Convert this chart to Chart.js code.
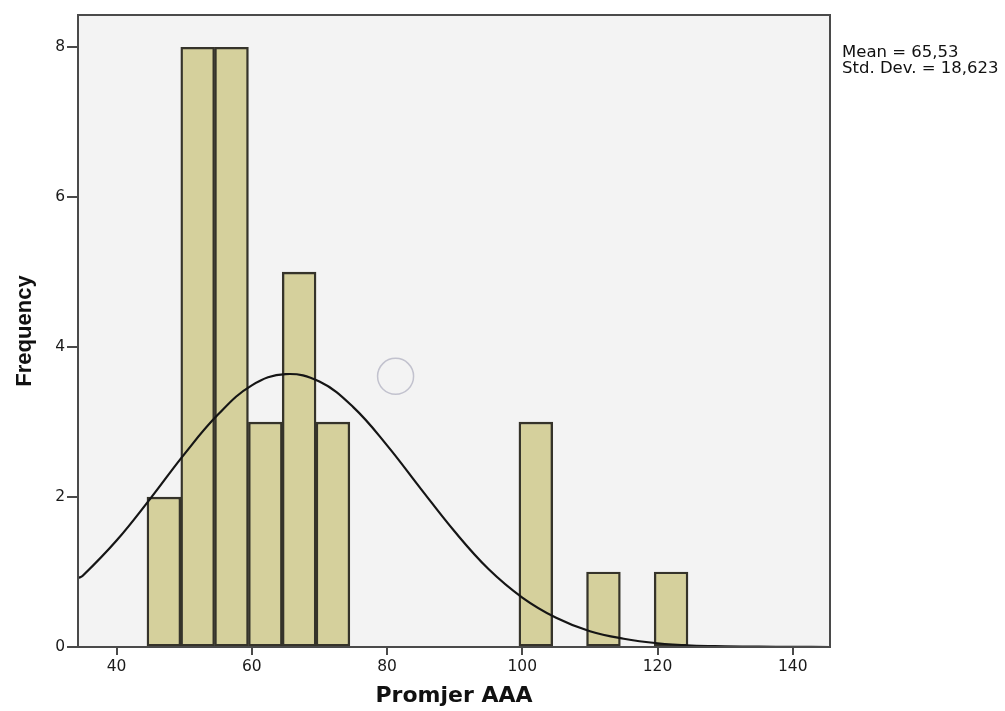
<!DOCTYPE html>
<html>
<head>
<meta charset="utf-8">
<script src="https://cdn.jsdelivr.net/npm/chart.js@4"></script>
<style>
  body { margin: 0; background: #fff; }
  #wrap { width: 1005px; height: 711px; }
</style>
</head>
<body>
<div id="wrap"><canvas id="hist" width="1005" height="711"></canvas></div>
<script>
// histogram bins (centre of each 5-wide bin) and counts
var binCentres = [47, 52, 57, 62, 67, 72, 102, 112, 122];
var counts = [2, 8, 8, 3, 5, 3, 3, 1, 1];

// normal curve
var curveX = [34.3, 35, 40, 45, 50, 55, 60, 65, 70, 75, 80, 85, 90, 95, 100, 105, 110, 115, 120, 125, 130, 135, 140, 145.5];
var curveY = [0.92, 0.95, 1.42, 1.98, 2.57, 3.10, 3.49, 3.64, 3.54, 3.20, 2.69, 2.11, 1.54, 1.04, 0.66, 0.39, 0.21, 0.11, 0.05, 0.02, 0.01, 0.004, 0.001, 0];

var xTicks = [40, 60, 80, 100, 120, 140];
var yTicks = [0, 2, 4, 6, 8];
var statLines = ['Mean = 65,53', 'Std. Dev. = 18,623'];

// stray circle mark in the plot
var markX = [81.26];
var markY = [3.61];

var plotBg = {
    id: 'plotBg',
    beforeDraw: function(chart) {
        var a = chart.chartArea, ctx = chart.ctx;
        ctx.save();
        ctx.fillStyle = '#f3f3f3';
        ctx.fillRect(a.left, a.top, a.right - a.left, a.bottom - a.top);
        ctx.restore();
    },
    afterDraw: function(chart) {
        var a = chart.chartArea, ctx = chart.ctx;
        ctx.save();
        ctx.strokeStyle = '#4a4a4a';
        ctx.lineWidth = 2;
        ctx.strokeRect(a.left, a.top, a.right - a.left, a.bottom - a.top);
        ctx.fillStyle = '#111';
        ctx.font = '16.5px "DejaVu Sans"';
        ctx.textBaseline = 'alphabetic';
        ctx.fillText(statLines[0], 842, 57);
        ctx.fillText(statLines[1], 842, 73);
        ctx.restore();
    }
};

new Chart(document.getElementById('hist').getContext('2d'), {
    type: 'bar',
    data: {
        datasets: [
            {
                type: 'line',
                data: markX.map(function(v, i) { return {x: v, y: markY[i]}; }),
                showLine: false,
                pointRadius: 18,
                pointBorderWidth: 1.5,
                pointBorderColor: '#c2c2ce',
                pointBackgroundColor: 'rgba(0,0,0,0)',
                order: 0
            },
            {
                type: 'line',
                data: curveX.map(function(v, i) { return {x: v, y: curveY[i]}; }),
                borderColor: '#151515',
                borderWidth: 2.2,
                pointRadius: 0,
                tension: 0.4,
                fill: false,
                order: 1
            },
            {
                type: 'bar',
                data: binCentres.map(function(v, i) { return {x: v, y: counts[i]}; }),
                backgroundColor: '#d5d09c',
                borderColor: '#35332a',
                borderWidth: 2.4,
                borderSkipped: false,
                barPercentage: 1,
                categoryPercentage: 1,
                order: 2
            }
        ]
    },
    options: {
        responsive: false,
        animation: false,
        layout: { autoPadding: false, padding: { top: 15, right: 175, left: 0, bottom: 0 } },
        plugins: { legend: { display: false }, tooltip: { enabled: false } },
        scales: {
            x: {
                type: 'linear',
                offset: false,
                min: 34.3,
                max: 145.5,
                afterBuildTicks: function(s) { s.ticks = xTicks.map(function(v) { return {value: v}; }); },
                afterFit: function(s) { s.height = 64; s.paddingLeft = 0; s.paddingRight = 0; },
                grid: { offset: false, drawOnChartArea: false, drawTicks: true, tickLength: 8, color: '#4a4a4a', lineWidth: 2 },
                border: { display: true, color: '#4a4a4a', width: 2 },
                ticks: { color: '#1a1a1a', font: { family: 'DejaVu Sans', size: 15.5 }, padding: 3, maxRotation: 0 },
                title: { display: true, text: 'Promjer AAA', color: '#111', font: { family: 'DejaVu Sans', weight: 'bold', size: 22 }, padding: { top: 0, bottom: 2 } }
            },
            y: {
                min: 0,
                max: 8.43,
                afterBuildTicks: function(s) { s.ticks = yTicks.map(function(v) { return {value: v}; }); },
                afterFit: function(s) { s.width = 78; s.paddingTop = 0; s.paddingBottom = 0; },
                grid: { drawOnChartArea: false, drawTicks: true, tickLength: 11, color: '#4a4a4a', lineWidth: 2 },
                border: { display: true, color: '#4a4a4a', width: 2 },
                ticks: { color: '#1a1a1a', font: { family: 'DejaVu Sans', size: 15.5 }, padding: 2 },
                title: { display: true, text: 'Frequency', color: '#111', font: { family: 'Liberation Sans', weight: 'bold', size: 22 }, padding: { top: 12, bottom: 0 } }
            }
        }
    },
    plugins: [plotBg]
});
</script>
</body>
</html>
